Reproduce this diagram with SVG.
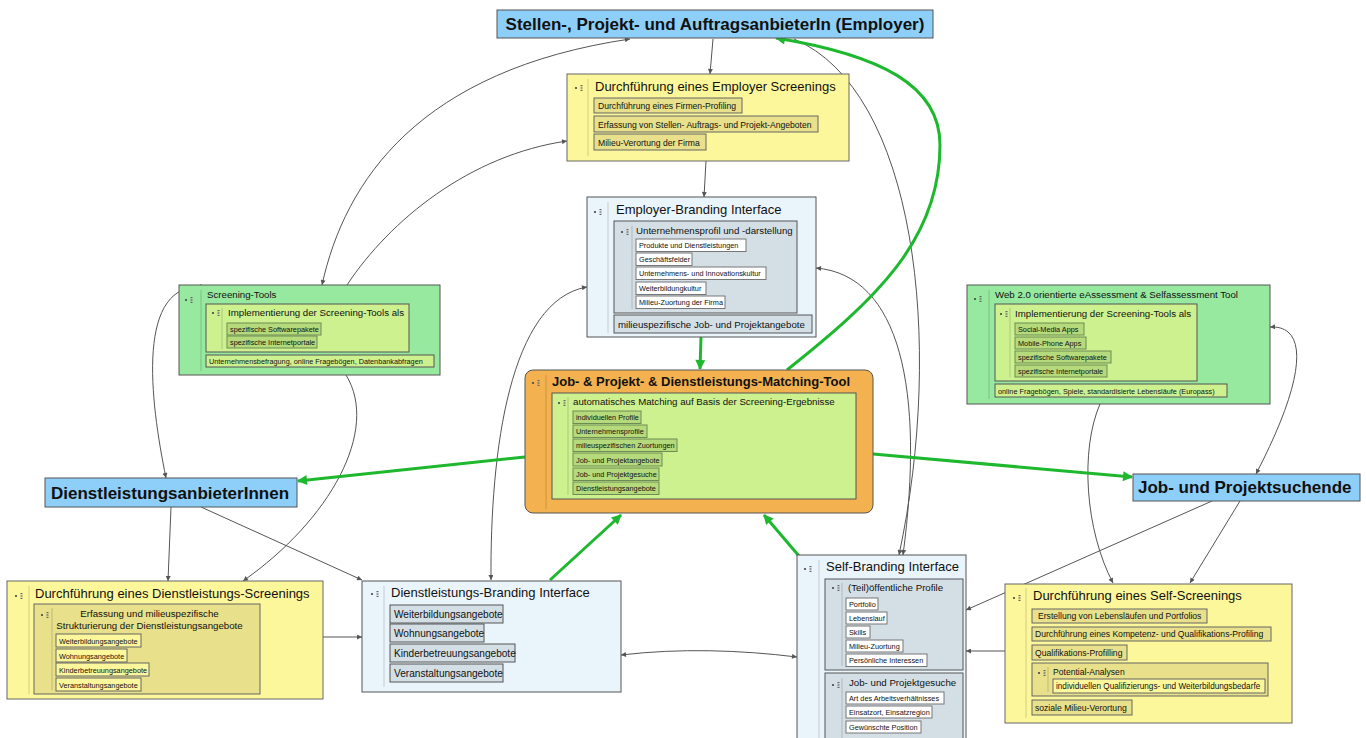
<svg xmlns="http://www.w3.org/2000/svg" xmlns:xlink="http://www.w3.org/1999/xlink" width="1366" height="738" viewBox="0 0 1366 738">
<style>
text{font-family:"Liberation Sans",Arial,sans-serif;fill:#111}
.big{font-size:17px;font-weight:bold}
.t13{font-size:13px}
.t13b{font-size:13px;font-weight:bold}
.t10{font-size:9.7px}
.t101{font-size:10.1px}
.t86{font-size:8.6px}
.t82{font-size:8.2px}
.t73{font-size:7.3px}
.blue{fill:#8dcff8;stroke:#555;stroke-width:1}
.yel{fill:#fdf79b;stroke:#666;stroke-width:1}
.lb{fill:#eaf5fb;stroke:#555;stroke-width:1}
.gb{fill:#d3dfe5;stroke:#555;stroke-width:1}
.grn{fill:#97e99f;stroke:#555;stroke-width:1}
.yg{fill:#cdf18f;stroke:#555;stroke-width:1}
.org{fill:#f3b24f;stroke:#555;stroke-width:1}
.iy{fill:#e8e08a;stroke:#666;stroke-width:1}
.il{fill:#fdf79b;stroke:#666;stroke-width:1}
.ig{fill:#b5da7b;stroke:#6d8c55;stroke-width:1}
.iw{fill:#ffffff;stroke:#777;stroke-width:1}
.vl{stroke:#000;stroke-opacity:0.17;stroke-width:1}
.c{fill:none;stroke:#555;stroke-width:1}
.g{fill:none;stroke:#1db82e;stroke-width:3}
</style>
<defs>
<marker id="ag" viewBox="0 0 10 10" refX="10" refY="5" markerWidth="7" markerHeight="5" orient="auto-start-reverse" markerUnits="userSpaceOnUse"><path d="M0,0 L10,5 L0,10 z" fill="#555"/></marker>
<marker id="aG" viewBox="0 0 10 10" refX="9" refY="5" markerWidth="13" markerHeight="10" orient="auto" markerUnits="userSpaceOnUse"><path d="M0,0 L10,5 L0,10 z" fill="#1db82e"/></marker>
<g id="ic"><circle cx="0" cy="0" r="1.1" fill="#444"/><rect x="4.5" y="-3" width="2" height="1.2" fill="#666"/><rect x="4.5" y="-0.6" width="2" height="1.2" fill="#666"/><rect x="4.5" y="1.8" width="2" height="1.2" fill="#666"/></g>
</defs>

<g id="connectors">
<path class="c" d="M713 39 L710 74" marker-end="url(#ag)"/>
<path class="c" d="M706 161 L704 197" marker-end="url(#ag)"/>
<path class="c" d="M322 285 C345 180 420 70 630 39" marker-start="url(#ag)" marker-end="url(#ag)"/>
<path class="c" d="M347 285 C390 220 470 155 567 141" marker-end="url(#ag)"/>
<path class="c" d="M166 478 C150 400 135 280 205 287" marker-start="url(#ag)" marker-end="url(#ag)"/>
<path class="c" d="M346 375 C380 430 330 520 243 581" marker-end="url(#ag)"/>
<path class="c" d="M171 507 L168 581" marker-end="url(#ag)"/>
<path class="c" d="M201 507 L362 580" marker-end="url(#ag)"/>
<path class="c" d="M323 637 L362 637" marker-end="url(#ag)"/>
<path class="c" d="M491 580 C490 450 510 300 587 287" marker-start="url(#ag)" marker-end="url(#ag)"/>
<path class="c" d="M621 655 C680 648 740 650 797 657" marker-start="url(#ag)" marker-end="url(#ag)"/>
<path class="c" d="M794 39 C915 90 945 340 899 555" marker-end="url(#ag)"/>
<path class="c" d="M816 268 C900 275 925 390 903 555" marker-start="url(#ag)" marker-end="url(#ag)"/>
<path class="c" d="M1270 327 C1310 325 1305 380 1256 474" marker-start="url(#ag)" marker-end="url(#ag)"/>
<path class="c" d="M1100 404 C1080 450 1085 530 1113 583" marker-end="url(#ag)"/>
<path class="c" d="M1212 501 L966 610" marker-end="url(#ag)"/>
<path class="c" d="M1240 501 L1190 583" marker-end="url(#ag)"/>
<path class="c" d="M1005 651 L966 651" marker-end="url(#ag)"/>
<path class="g" d="M701 337 L700 369" marker-end="url(#aG)"/>
<path class="g" d="M787 370 C875 300 940 240 940 145 C940 85 880 55 776 38" marker-end="url(#aG)"/>
<path class="g" d="M525 457 L298 481" marker-end="url(#aG)"/>
<path class="g" d="M873 454 L1132 477" marker-end="url(#aG)"/>
<path class="g" d="M550 580 L621 515" marker-end="url(#aG)"/>
<path class="g" d="M799 556 L764 515" marker-end="url(#aG)"/>
</g>

<g id="employer">
<rect x="497" y="10" width="436" height="28" class="blue"/>
<text x="715" y="30" class="big" text-anchor="middle">Stellen-, Projekt- und AuftragsanbieterIn (Employer)</text>
</g>

<g id="employer-screening">
<rect x="567" y="74" width="282" height="87" class="yel"/>
<use href="#ic" x="576" y="88"/>
<line class="vl" x1="588" y1="79" x2="588" y2="156"/>
<text x="595" y="91" class="t13">Durchführung eines Employer Screenings</text>
<rect x="594" y="98" width="148" height="15" class="iy"/>
<text x="598" y="109" class="t86">Durchführung eines Firmen-Profiling</text>
<rect x="594" y="116" width="224" height="16" class="iy"/>
<text x="598" y="127.5" class="t86">Erfassung von Stellen- Auftrags- und Projekt-Angeboten</text>
<rect x="594" y="134" width="112" height="16" class="iy"/>
<text x="598" y="145.5" class="t86">Milieu-Verortung der Firma</text>
</g>

<g id="employer-branding">
<rect x="587" y="197" width="229" height="140" class="lb"/>
<use href="#ic" x="595" y="212"/>
<line class="vl" x1="608" y1="202" x2="608" y2="333"/>
<text x="616" y="214" class="t13">Employer-Branding Interface</text>
<rect x="614" y="221" width="183" height="92" class="gb"/>
<use href="#ic" x="622" y="232"/>
<line class="vl" x1="632" y1="226" x2="632" y2="309"/>
<text x="636" y="234" class="t10">Unternehmensprofil und -darstellung</text>
<rect x="636" y="239" width="110" height="12.5" class="iw"/>
<text x="639" y="248.3" class="t73">Produkte und Dienstleistungen</text>
<rect x="636" y="253" width="56" height="12.5" class="iw"/>
<text x="639" y="262.3" class="t73">Geschäftsfelder</text>
<rect x="636" y="267" width="130" height="12.5" class="iw"/>
<text x="639" y="276.3" class="t73">Unternehmens- und Innovationskultur</text>
<rect x="636" y="282" width="70" height="12.5" class="iw"/>
<text x="639" y="291.3" class="t73">Weiterbildungkultur</text>
<rect x="636" y="296" width="89" height="12.5" class="iw"/>
<text x="639" y="305.3" class="t73">Milieu-Zuortung der Firma</text>
<rect x="614" y="315" width="198" height="18" class="gb"/>
<text x="618" y="328" class="t10">milieuspezifische Job- und Projektangebote</text>
</g>

<g id="screening-tools">
<rect x="179" y="285" width="261" height="90" class="grn"/>
<use href="#ic" x="186" y="300"/>
<line class="vl" x1="201" y1="290" x2="201" y2="371"/>
<text x="207" y="297.5" class="t10">Screening-Tools</text>
<rect x="206" y="304" width="203" height="48" class="yg"/>
<use href="#ic" x="213" y="313"/>
<line class="vl" x1="222" y1="308" x2="222" y2="349"/>
<text x="228" y="315.5" class="t10">Implementierung der Screening-Tools als</text>
<rect x="227" y="323" width="94" height="12" class="ig"/>
<text x="230" y="332" class="t73">spezifische Softwarepakete</text>
<rect x="227" y="336" width="90" height="12" class="ig"/>
<text x="230" y="345" class="t73">spezifische Internetportale</text>
<rect x="206" y="355" width="228" height="12" class="yg"/>
<text x="209" y="364" class="t73">Unternehmensbefragung, online Fragebögen, Datenbankabfragen</text>
</g>

<g id="web20-tool">
<rect x="967" y="285" width="303" height="119" class="grn"/>
<use href="#ic" x="975" y="299"/>
<line class="vl" x1="989" y1="290" x2="989" y2="399"/>
<text x="995" y="297.5" class="t10">Web 2.0 orientierte eAssessment &amp; Selfassessment Tool</text>
<rect x="995" y="304" width="202" height="77" class="yg"/>
<use href="#ic" x="1001" y="314"/>
<line class="vl" x1="1010" y1="308" x2="1010" y2="377"/>
<text x="1015" y="317" class="t10">Implementierung der Screening-Tools als</text>
<rect x="1015" y="323" width="69" height="12" class="ig"/>
<text x="1018" y="332" class="t73">Social-Media Apps</text>
<rect x="1015" y="337" width="71" height="12" class="ig"/>
<text x="1018" y="346" class="t73">Mobile-Phone Apps</text>
<rect x="1015" y="351" width="96" height="12" class="ig"/>
<text x="1018" y="360" class="t73">spezifische Softwarepakete</text>
<rect x="1015" y="365" width="92" height="12" class="ig"/>
<text x="1018" y="374" class="t73">spezifische Internetportale</text>
<rect x="995" y="384" width="232" height="13" class="yg"/>
<text x="998" y="393.5" class="t73">online Fragebögen, Spiele, standardisierte Lebensläufe (Europass)</text>
</g>

<g id="matching-tool">
<rect x="525" y="370" width="348" height="143" rx="8" class="org"/>
<use href="#ic" x="533" y="383"/>
<line class="vl" x1="546" y1="375" x2="546" y2="509" stroke-opacity="0.25"/>
<text x="552" y="386" class="t13b">Job- &amp; Projekt- &amp; Dienstleistungs-Matching-Tool</text>
<rect x="552" y="393" width="304" height="106" class="yg"/>
<use href="#ic" x="559" y="403"/>
<line class="vl" x1="568" y1="397" x2="568" y2="495"/>
<text x="573" y="404.5" class="t10">automatisches Matching auf Basis der Screening-Ergebnisse</text>
<rect x="573" y="411" width="68" height="12.5" class="ig"/>
<text x="576" y="420.3" class="t73">individuellen Profile</text>
<rect x="573" y="425" width="74" height="12.5" class="ig"/>
<text x="576" y="434.3" class="t73">Unternehmensprofile</text>
<rect x="573" y="439" width="104" height="12.5" class="ig"/>
<text x="576" y="448.3" class="t73">milieuspezifischen Zuortungen</text>
<rect x="573" y="453" width="89" height="13" class="ig"/>
<text x="576" y="462.5" class="t73">Job- und Projektangebote</text>
<rect x="573" y="468" width="86" height="12.5" class="ig"/>
<text x="576" y="477.3" class="t73">Job- und Projektgesuche</text>
<rect x="573" y="482" width="86" height="12.5" class="ig"/>
<text x="576" y="491.3" class="t73">Dienstleistungsangebote</text>
</g>

<g id="dienstleistungsanbieter">
<rect x="45" y="478" width="252" height="29" class="blue"/>
<text x="170" y="499" class="big" text-anchor="middle">DienstleistungsanbieterInnen</text>
</g>

<g id="jobsuchende">
<rect x="1133" y="474" width="227" height="27" class="blue"/>
<text x="1138" y="493" class="big">Job- und Projektsuchende</text>
</g>

<g id="dienstleistungs-screening">
<rect x="7" y="581" width="316" height="118" class="yel"/>
<use href="#ic" x="16" y="596"/>
<line class="vl" x1="29" y1="586" x2="29" y2="694"/>
<text x="35" y="598" class="t13">Durchführung eines Dienstleistungs-Screenings</text>
<rect x="34" y="604" width="226" height="90" class="iy"/>
<use href="#ic" x="42" y="615"/>
<line class="vl" x1="52" y1="608" x2="52" y2="690"/>
<text x="149.5" y="617" class="t10" text-anchor="middle">Erfassung und milieuspezifische</text>
<text x="149.5" y="628.5" class="t10" text-anchor="middle">Strukturierung der Dienstleistungsangebote</text>
<rect x="56" y="634" width="85" height="13" class="il"/>
<text x="59" y="643.5" class="t73">Weiterbildungsangebote</text>
<rect x="56" y="649" width="71" height="13" class="il"/>
<text x="59" y="658.5" class="t73">Wohnungsangebote</text>
<rect x="56" y="663" width="93" height="13" class="il"/>
<text x="59" y="672.5" class="t73">Kinderbetreuungsangebote</text>
<rect x="56" y="678" width="85" height="13" class="il"/>
<text x="59" y="687.5" class="t73">Veranstaltungsangebote</text>
</g>

<g id="dienstleistungs-branding">
<rect x="362" y="581" width="259" height="111" class="lb"/>
<use href="#ic" x="372" y="594"/>
<line class="vl" x1="384" y1="586" x2="384" y2="687"/>
<text x="391" y="597" class="t13">Dienstleistungs-Branding Interface</text>
<rect x="390" y="605" width="113" height="18" class="gb"/>
<text x="394" y="617.5" class="t101">Weiterbildungsangebote</text>
<rect x="390" y="624" width="94" height="18" class="gb"/>
<text x="394" y="636.5" class="t101">Wohnungsangebote</text>
<rect x="390" y="644" width="125" height="18" class="gb"/>
<text x="394" y="656.5" class="t101">Kinderbetreuungsangebote</text>
<rect x="390" y="664" width="113" height="18" class="gb"/>
<text x="394" y="676.5" class="t101">Veranstaltungsangebote</text>
</g>

<g id="self-branding">
<rect x="797" y="555" width="169" height="195" class="lb"/>
<use href="#ic" x="805" y="569"/>
<line class="vl" x1="819" y1="560" x2="819" y2="738"/>
<text x="826" y="571" class="t13">Self-Branding Interface</text>
<rect x="825" y="579" width="138" height="91" class="gb"/>
<use href="#ic" x="833" y="588"/>
<line class="vl" x1="842" y1="583" x2="842" y2="666"/>
<text x="848" y="591" class="t10">(Teil)öffentliche Profile</text>
<rect x="846" y="598" width="32" height="12" class="iw"/>
<text x="849" y="607" class="t73">Portfolio</text>
<rect x="846" y="612" width="41" height="12" class="iw"/>
<text x="849" y="621" class="t73">Lebenslauf</text>
<rect x="846" y="626" width="24" height="12" class="iw"/>
<text x="849" y="635" class="t73">Skills</text>
<rect x="846" y="640" width="57" height="12" class="iw"/>
<text x="849" y="649" class="t73">Milieu-Zuortung</text>
<rect x="846" y="654" width="81" height="12.5" class="iw"/>
<text x="849" y="663.3" class="t73">Persönliche Interessen</text>
<rect x="825" y="673" width="138" height="80" class="gb"/>
<use href="#ic" x="833" y="685"/>
<line class="vl" x1="842" y1="678" x2="842" y2="738"/>
<text x="849" y="686" class="t10">Job- und Projektgesuche</text>
<rect x="846" y="692" width="98" height="12" class="iw"/>
<text x="849" y="701" class="t73">Art des Arbeitsverhältnisses</text>
<rect x="846" y="706" width="86" height="12" class="iw"/>
<text x="849" y="715" class="t73">Einsatzort, Einsatzregion</text>
<rect x="846" y="721" width="75" height="12" class="iw"/>
<text x="849" y="730" class="t73">Gewünschte Position</text>
</g>

<g id="self-screening">
<rect x="1005" y="584" width="287" height="139" class="yel"/>
<use href="#ic" x="1014" y="598"/>
<line class="vl" x1="1026" y1="588" x2="1026" y2="718"/>
<text x="1033" y="600" class="t13">Durchführung eines Self-Screenings</text>
<rect x="1032" y="609" width="175" height="14" class="iy"/>
<text x="1038" y="619" class="t86">Erstellung von Lebensläufen und Portfolios</text>
<rect x="1032" y="627" width="239" height="14" class="iy"/>
<text x="1035" y="637" class="t86">Durchführung eines Kompetenz- und Qualifikations-Profiling</text>
<rect x="1032" y="645" width="95" height="15" class="iy"/>
<text x="1035" y="655.5" class="t86">Qualifikations-Profilling</text>
<rect x="1032" y="663" width="236" height="33" class="iy"/>
<use href="#ic" x="1039" y="673"/>
<line class="vl" x1="1048" y1="667" x2="1048" y2="692"/>
<text x="1053" y="675" class="t86">Potential-Analysen</text>
<rect x="1053" y="679" width="212" height="14" class="il"/>
<text x="1056" y="689" class="t82">individuellen Qualifizierungs- und Weiterbildungsbedarfe</text>
<rect x="1032" y="700" width="100" height="15" class="iy"/>
<text x="1035" y="710.5" class="t86">soziale Milieu-Verortung</text>
</g>
</svg>
